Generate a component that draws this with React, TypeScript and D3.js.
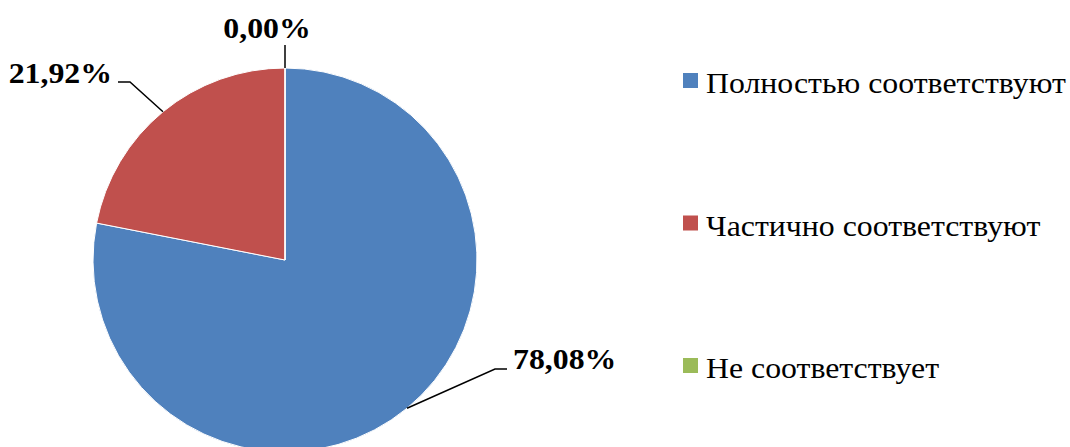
import React from "react";
import * as d3 from "d3";

const categories = ["Полностью соответствуют", "Частично соответствуют", "Не соответствует"];
const values = [78.08, 21.92, 0];
const labels = ["78,08%", "21,92%", "0,00%"];
const colors = ["#4F81BD", "#C0504D", "#9BBB59"];

const W = 1070;
const H = 447;
const cx = 285;
const cy = 260;
const R = 192;
const FONT = '"Liberation Serif", "Times New Roman", Times, serif';
const SX = 1.06;

// label layout: elbow point, end point, text anchor point
const labelLayout = [
  { elbow: [495, 369], end: [507, 369], text: [513, 369], anchor: "start" },
  { elbow: [130, 82], end: [118, 82], text: [112, 83], anchor: "end" },
  { elbow: [285, 45], end: [285, 45], text: [267, 38], anchor: "middle" },
];

export default function App() {
  const pie = d3.pie<number>().sort(null).startAngle(0).endAngle(2 * Math.PI);
  const arcs = pie(values);
  const arc = d3.arc<d3.PieArcDatum<number>>().innerRadius(0).outerRadius(R);

  return (
    <svg width={W} height={H} style={{ position: "absolute", left: 0, top: 0, background: "#fff" }}>
      <g transform={`translate(${cx},${cy})`}>
        {arcs.map((a, i) => (
          <path key={i} d={arc(a) || ""} fill={colors[i]} stroke="#fff" strokeWidth={1} />
        ))}
      </g>
      {arcs.map((a, i) => {
        const mid = (a.startAngle + a.endAngle) / 2;
        const ex = cx + R * Math.sin(mid);
        const ey = cy - R * Math.cos(mid);
        const L = labelLayout[i];
        return (
          <g key={i}>
            <polyline
              points={`${ex},${ey} ${L.elbow[0]},${L.elbow[1]} ${L.end[0]},${L.end[1]}`}
              fill="none"
              stroke="#000"
              strokeWidth={1.5}
            />
            <g transform={`translate(${L.text[0]},${L.text[1]}) scale(${SX},1)`}>
              <text
                x={0}
                y={0}
                textAnchor={L.anchor as any}
                style={{ fontFamily: FONT, fontWeight: "bold", fontSize: 30 }}
                fill="#000"
              >
                {labels[i]}
              </text>
            </g>
          </g>
        );
      })}
      {categories.map((c, i) => {
        const y = 93 + i * 142.5;
        return (
          <g key={i}>
            <rect x={683} y={y - 20} width={15} height={15} fill={colors[i]} />
            <g transform={`translate(706,${y}) scale(${SX},1)`}>
              <text x={0} y={0} style={{ fontFamily: FONT, fontSize: 30 }} fill="#000">
                {c}
              </text>
            </g>
          </g>
        );
      })}
    </svg>
  );
}
